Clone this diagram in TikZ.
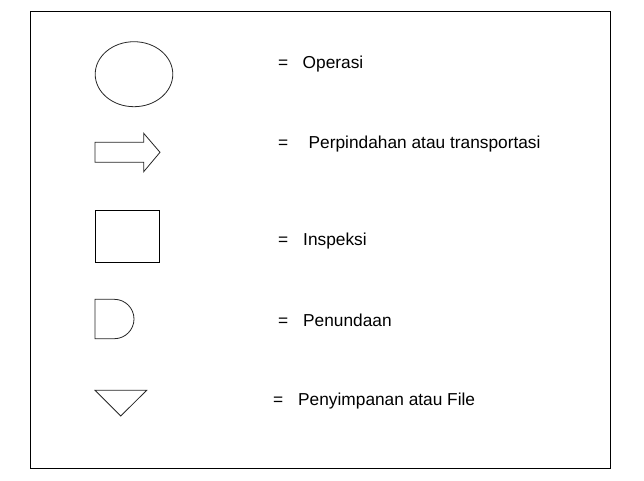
\documentclass[tikz,border=0pt]{standalone}
\usepackage{fontspec}
\setmainfont{Liberation Sans}
\begin{document}
\begin{tikzpicture}[x=1pt,y=-1pt,
  shp/.style={draw=black!85,line width=0.8pt,line join=miter},
  lbl/.style={anchor=base west,inner sep=0pt,font=\fontsize{17.3}{20}\selectfont},
  eq/.style={anchor=base west,inner sep=0pt,font=\fontsize{17.3}{20}\selectfont}]
\useasboundingbox (0,0) rectangle (644,480);
\draw[line width=1pt] (30.5,11) rectangle (610,468);
% operasi
\draw[shp] (134,74.2) ellipse [x radius=38.8, y radius=32.5];
% arrow
\draw[shp] (95,142.3) -- (143.7,142.3) -- (143.7,133.3) -- (160,152.3) -- (143.7,171.7) -- (143.7,162.3) -- (95,162.3) -- cycle;
% inspeksi
\draw[shp,line width=1pt,draw=black] (95,210.3) rectangle (159.3,262);
% penundaan
\draw[shp] (114.3,338.7) -- (95,338.7) -- (95,299.3) -- (114.3,299.3) arc[start angle=-90,end angle=90,radius=19.7] -- cycle;
% penyimpanan
\draw[shp] (95,390.3) -- (146.7,390.3) -- (120.7,416) -- cycle;
% labels
\node[eq] (e1) at (278,68) {=};
\node[lbl] (t1) at (302.5,68) {Operasi};
\node[eq] (e2) at (278,148.3) {=};
\node[lbl] (t2) at (308.5,148.3) {Perpindahan atau transportasi};
\node[eq] (e3) at (278,245.7) {=};
\node[lbl] (t3) at (303,245.7) {Inspeksi};
\node[eq] (e4) at (278,326) {=};
\node[lbl] (t4) at (303,326) {Penundaan};
\node[eq] (e5) at (273,405.7) {=};
\node[lbl] (t5) at (298,405.7) {Penyimpanan atau File};
\end{tikzpicture}
\end{document}
